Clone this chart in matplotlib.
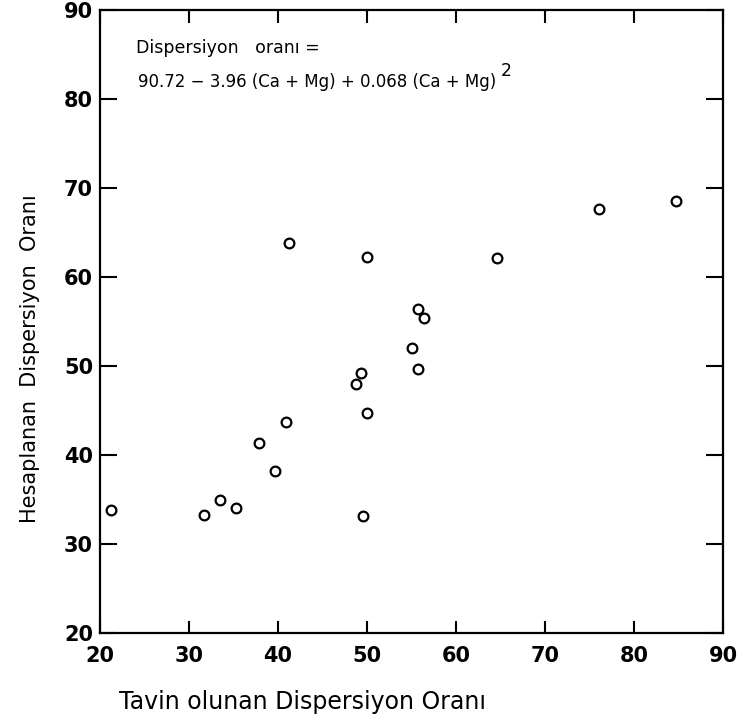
import matplotlib
matplotlib.use("Agg")
import matplotlib.pyplot as plt

# Data
tavin = [21.2, 31.65, 33.45, 35.3, 37.9, 39.7, 40.9, 41.2, 48.8, 49.3,
         49.5, 49.96, 49.96, 55.06, 55.7, 55.76, 56.4, 64.65, 76.1, 84.7]
hesap = [33.8, 33.3, 34.9, 34.1, 41.3, 38.2, 43.7, 63.8, 48.0, 49.2,
         33.1, 44.7, 62.3, 52.0, 49.7, 56.4, 55.4, 62.1, 67.6, 68.5]
ticks = [20, 30, 40, 50, 60, 70, 80, 90]
xlabel = "Tavin olunan Dispersiyon Oranı"
ylabel = "Hesaplanan  Dispersiyon  Oranı"
eq_line1 = "Dispersiyon   oranı ="
eq_line2 = "90.72 − 3.96 (Ca + Mg) + 0.068 (Ca + Mg)"
eq_sup = "2"

fig = plt.figure(figsize=(7.43, 7.24), dpi=100)
ax = fig.add_axes([100/743, 1-633/724, 623/743, 623/724])

ax.plot(tavin, hesap, linestyle="none", marker="o", markersize=7,
        markerfacecolor="none", markeredgecolor="black", markeredgewidth=1.6)

ax.set_xlim(20, 90)
ax.set_ylim(20, 90)
ax.set_xticks(ticks)
ax.set_yticks(ticks)
ax.set_xticklabels([str(t) for t in ticks], fontsize=15, fontweight="bold")
ax.set_yticklabels([str(t) for t in ticks], fontsize=15, fontweight="bold")

for s in ax.spines.values():
    s.set_linewidth(1.6)
ax.tick_params(axis="both", direction="in", width=1.5, top=True, right=True)
ax.tick_params(axis="y", length=12, pad=5)
ax.tick_params(axis="x", length=9, pad=9)

ax.text(0.058, 0.939, eq_line1, transform=ax.transAxes, fontsize=12.5,
        ha="left", va="center")
t2 = ax.text(0.061, 0.884, eq_line2, transform=ax.transAxes, fontsize=12,
             ha="left", va="center")
fig.canvas.draw()
bb = t2.get_window_extent()
fig.text((bb.x1 + 4) / fig.bbox.width, (bb.y1 + 2) / fig.bbox.height, eq_sup,
         fontsize=12.5, ha="left", va="center")

fig.text(119/743, 1-702/724, xlabel, fontsize=17, ha="left", va="center")
fig.text(30/743, 1-359/724, ylabel, fontsize=15, rotation=90,
         ha="center", va="center")

fig.savefig("out.png", dpi=100)
